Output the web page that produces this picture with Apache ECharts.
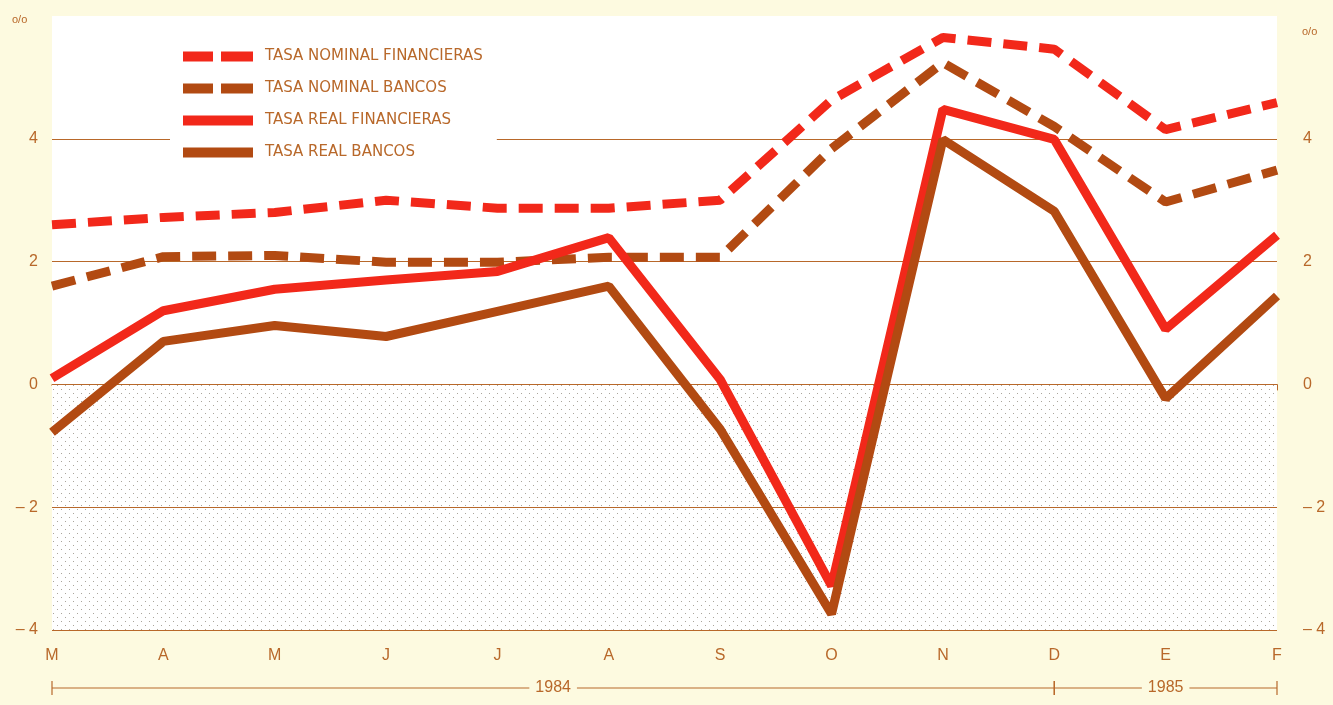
<!DOCTYPE html>
<html lang="es">
<head>
<meta charset="UTF-8">
<script src="https://cdn.jsdelivr.net/npm/echarts@6/dist/echarts.min.js"></script>
<style>
  html, body { margin: 0; padding: 0; background: #fdfae0; }
  #graph { width: 1333px; height: 705px; }
</style>
</head>
<body>
<div id="graph"></div>
<script type="text/javascript">
// meses de marzo 1984 a febrero 1985
var meses = ['M', 'A', 'M', 'J', 'J', 'A', 'S', 'O', 'N', 'D', 'E', 'F'];
var nominalFinancieras = [2.6, 2.72, 2.8, 3.0, 2.87, 2.87, 3.0, 4.63, 5.65, 5.46, 4.15, 4.59];
var nominalBancos = [1.6, 2.08, 2.1, 1.99, 1.99, 2.07, 2.07, 3.84, 5.24, 4.2, 2.97, 3.49];
var realFinancieras = [0.1, 1.2, 1.55, 1.7, 1.84, 2.39, 0.08, -3.28, 4.48, 3.99, 0.9, 2.43];
var realBancos = [-0.78, 0.7, 0.96, 0.78, 1.19, 1.6, -0.73, -3.74, 3.99, 2.82, -0.23, 1.44];
var marcasY = [-4, -2, 0, 2, 4];
var anios = [
    { texto: '1984', desde: 0, hasta: 9 },
    { texto: '1985', desde: 9, hasta: 11 }
];

var rojo = '#f2281a';
var cafe = '#b24a12';
var ocre = '#b8682a';
var fondo = '#fdfae0';

// iconos de la leyenda: trazo cortado y trazo lleno
var iconoCortado = 'path://M0,0H30V10H0Z M38,0H70V10H38Z';
var iconoLleno = 'path://M0,0H70V10H0Z';

// trama punteada para la zona negativa
var trama = document.createElement('canvas');
trama.width = 8; trama.height = 8;
var tctx = trama.getContext('2d');
tctx.fillStyle = '#ffffff';
tctx.fillRect(0, 0, 8, 8);
tctx.fillStyle = '#aaa59c';
tctx.fillRect(1, 1, 1, 1);
tctx.fillRect(5, 5, 1, 1);

function etiquetaY(v) {
    if (v < 0) return '\u2013 ' + Math.abs(v);
    return String(v);
}

var mychart = echarts.init(document.getElementById('graph'));

var option = {
    backgroundColor: fondo,
    animation: false,
    textStyle: { fontFamily: 'Liberation Sans, Arial, sans-serif' },
    grid: {
        left: 52, right: 56, top: 16, bottom: 75,
        show: true, backgroundColor: '#ffffff', borderWidth: 0
    },
    legend: {
        orient: 'vertical',
        left: 170, top: 39,
        z: 10,
        padding: [10, 14, 12, 13],
        backgroundColor: '#ffffff',
        itemWidth: 72, itemHeight: 10, itemGap: 17,
        textStyle: { color: ocre, fontSize: 15, fontFamily: 'DejaVu Sans', padding: [0, 0, 0, 6] },
        data: [
            { name: 'TASA NOMINAL FINANCIERAS', icon: iconoCortado },
            { name: 'TASA NOMINAL BANCOS', icon: iconoCortado },
            { name: 'TASA REAL FINANCIERAS', icon: iconoLleno },
            { name: 'TASA REAL BANCOS', icon: iconoLleno }
        ]
    },
    xAxis: {
        type: 'category',
        data: meses,
        boundaryGap: false,
        axisLine: { show: true, lineStyle: { color: ocre, width: 1.5 } },
        axisTick: { show: true, length: 6, lineStyle: { color: ocre } },
        axisLabel: { color: ocre, fontSize: 16, margin: 18 },
        splitLine: { show: false }
    },
    yAxis: [
        {
            type: 'value', min: -4, max: 6, interval: 2,
            axisLine: { show: false }, axisTick: { show: false },
            splitLine: { show: false },
            axisLabel: {
                color: ocre, fontSize: 16, margin: 14,
                formatter: function (v) { return v > 4 ? '' : etiquetaY(v); }
            }
        },
        {
            type: 'value', min: -4, max: 6, interval: 2, position: 'right',
            axisLine: { show: false }, axisTick: { show: false },
            splitLine: { show: false },
            axisLabel: {
                color: ocre, fontSize: 16, margin: 26,
                formatter: function (v) { return v > 4 ? '' : etiquetaY(v); }
            }
        }
    ],
    series: [
        {
            name: 'TASA NOMINAL FINANCIERAS',
            type: 'line',
            data: nominalFinancieras,
            symbol: 'none',
            z: 5,
            lineStyle: { color: rojo, width: 9, type: [24, 12] },
            itemStyle: { color: rojo },
            markArea: {
                silent: true,
                itemStyle: { color: { image: trama, repeat: 'repeat' } },
                data: [[{ yAxis: 0 }, { yAxis: -4 }]]
            },
            markLine: {
                silent: true,
                symbol: 'none',
                label: { show: false },
                lineStyle: { color: ocre, width: 1.2, type: 'solid' },
                data: marcasY.map(function (v) { return { yAxis: v }; })
            }
        },
        {
            name: 'TASA NOMINAL BANCOS',
            type: 'line',
            data: nominalBancos,
            symbol: 'none',
            z: 5,
            lineStyle: { color: cafe, width: 9, type: [24, 12] },
            itemStyle: { color: cafe }
        },
        {
            name: 'TASA REAL FINANCIERAS',
            type: 'line',
            data: realFinancieras,
            symbol: 'none',
            z: 5,
            lineStyle: { color: rojo, width: 9 },
            itemStyle: { color: rojo }
        },
        {
            name: 'TASA REAL BANCOS',
            type: 'line',
            data: realBancos,
            symbol: 'none',
            z: 5,
            lineStyle: { color: cafe, width: 9 },
            itemStyle: { color: cafe }
        }
    ]
};
mychart.setOption(option, true);

// llaves de los años y signo o/o
var yLinea = 688;
var graficos = [
    { type: 'text', left: 12, top: 14, style: { text: 'o/o', fill: ocre, fontSize: 11 } },
    { type: 'text', left: 1302, top: 26, style: { text: 'o/o', fill: ocre, fontSize: 11 } }
];
anios.forEach(function (a) {
    var x1 = mychart.convertToPixel({ xAxisIndex: 0 }, a.desde);
    var x2 = mychart.convertToPixel({ xAxisIndex: 0 }, a.hasta);
    graficos.push({ type: 'line', shape: { x1: x1, y1: yLinea, x2: x2, y2: yLinea }, style: { stroke: ocre, lineWidth: 1.2 } });
    graficos.push({ type: 'line', shape: { x1: x1, y1: yLinea - 7, x2: x1, y2: yLinea + 7 }, style: { stroke: ocre, lineWidth: 1.2 } });
    graficos.push({ type: 'line', shape: { x1: x2, y1: yLinea - 7, x2: x2, y2: yLinea + 7 }, style: { stroke: ocre, lineWidth: 1.2 } });
    graficos.push({
        type: 'text', x: (x1 + x2) / 2, y: yLinea,
        style: {
            text: a.texto, fill: ocre, fontSize: 16, align: 'center', verticalAlign: 'middle',
            backgroundColor: fondo, padding: [0, 6]
        }
    });
});
mychart.setOption({ graphic: graficos });
</script>
</body>
</html>
